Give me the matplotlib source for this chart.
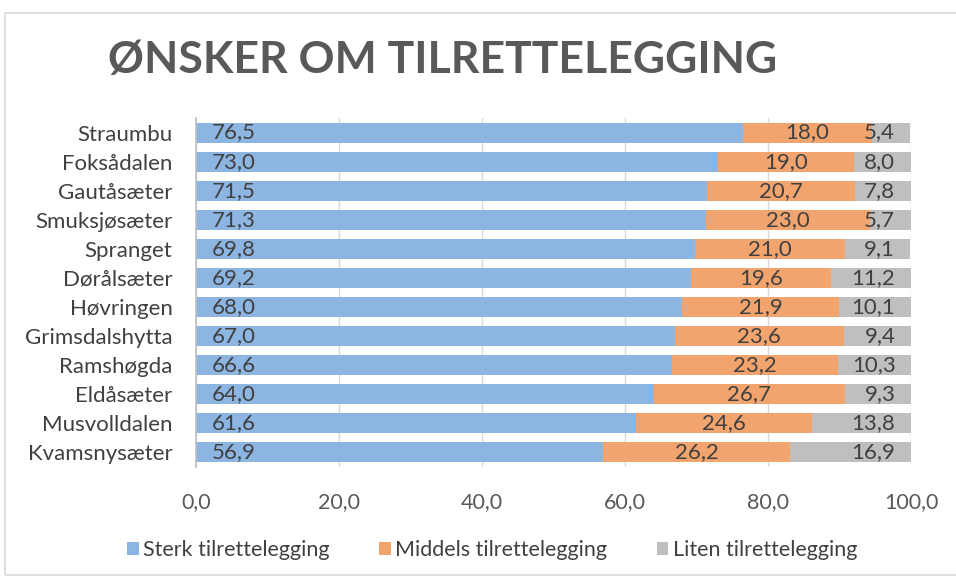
import matplotlib
matplotlib.use("Agg")
import matplotlib.pyplot as plt
from matplotlib.patches import Rectangle

categories = ["Straumbu", "Foksådalen", "Gautåsæter", "Smuksjøsæter", "Spranget",
              "Dørålsæter", "Høvringen", "Grimsdalshytta", "Ramshøgda", "Eldåsæter",
              "Musvolldalen", "Kvamsnysæter"]
sterk = [76.5, 73.0, 71.5, 71.3, 69.8, 69.2, 68.0, 67.0, 66.6, 64.0, 61.6, 56.9]
middels = [18.0, 19.0, 20.7, 23.0, 21.0, 19.6, 21.9, 23.6, 23.2, 26.7, 24.6, 26.2]
liten = [5.4, 8.0, 7.8, 5.7, 9.1, 11.2, 10.1, 9.4, 10.3, 9.3, 13.8, 16.9]
series_names = ["Sterk tilrettelegging", "Middels tilrettelegging", "Liten tilrettelegging"]
xticks = [0, 20, 40, 60, 80, 100]

colors = ["#8DB5E2", "#F2A46E", "#BFBFBF"]
text_color = "#404040"
plt.rcParams['font.family'] = ['Lato', 'DejaVu Sans']

fig = plt.figure(figsize=(9.56, 5.77), dpi=100)
fig.patches.append(Rectangle((5/956, 0.003), 1, (577-13-2)/577, transform=fig.transFigure,
                             fill=False, edgecolor="#D9D9D9", linewidth=1.2))
ax = fig.add_axes([196/956, 1-467/577, (911-196)/956, (467-118)/577])

y = list(range(len(categories)))
h = 0.69
fmt = lambda v: f"{v:.1f}".replace(".", ",")
b1 = ax.barh(y, sterk, height=h, color=colors[0], label=series_names[0], zorder=2)
left2 = sterk
b2 = ax.barh(y, middels, left=left2, height=h, color=colors[1], label=series_names[1], zorder=2)
left3 = [a + b for a, b in zip(sterk, middels)]
b3 = ax.barh(y, liten, left=left3, height=h, color=colors[2], label=series_names[2], zorder=2)

fs = 16
for i in y:
    ax.text(2.2, i, fmt(sterk[i]), va="center", ha="left", fontsize=fs, color=text_color, zorder=3)
    ax.text(left2[i] + middels[i] / 2, i, fmt(middels[i]), va="center", ha="center", fontsize=fs, color=text_color, zorder=3)
    ax.text(left3[i] + liten[i] - 2.2, i, fmt(liten[i]), va="center", ha="right", fontsize=fs, color=text_color, zorder=3)

ax.set_ylim(len(categories) - 0.5, -0.5)
ax.set_xlim(0, 100)
ax.set_yticks(y)
ax.set_yticklabels(categories, fontsize=fs, color=text_color)
ax.set_xticks(xticks)
ax.set_xticklabels([fmt(v) for v in xticks], fontsize=15.5, color="#595959")
ax.tick_params(axis="both", length=0)
ax.tick_params(axis="x", pad=18)
ax.tick_params(axis="y", pad=17)
ax.grid(axis="x", color="#D9D9D9", linewidth=1, zorder=0)
for s in ["top", "right", "bottom"]:
    ax.spines[s].set_visible(False)
ax.spines["left"].set_color("#BFBFBF")
ax.spines["left"].set_linewidth(1.2)

fig.text(443/956, 1-60/577, "ØNSKER OM TILRETTELEGGING", ha="center", va="center",
         fontsize=32, fontweight="bold", color="#595959")

leg = fig.legend(handles=[b1, b2, b3], labels=series_names, loc="center",
                 bbox_to_anchor=(492/956, 1-550/577), ncol=3, frameon=False,
                 fontsize=15.5, handlelength=0.55, handleheight=0.55, handletextpad=0.2,
                 columnspacing=2.3)
for t in leg.get_texts():
    t.set_color(text_color)

fig.savefig("out.png", dpi=100)
